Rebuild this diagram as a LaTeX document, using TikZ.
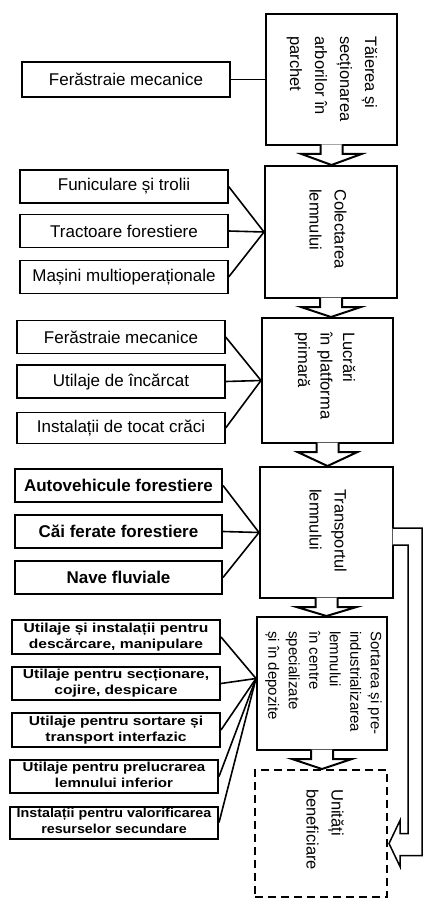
\documentclass[tikz,border=0pt]{standalone}
\usepackage{fontspec}
\usepackage{graphicx}
\setmainfont{Liberation Sans}
\usetikzlibrary{calc}
\newcommand\twoln[3][1.2]{\scalebox{#1}[1]{\begin{tabular}{@{}c@{}}#2\\#3\end{tabular}}}
\newcommand\blockarr[2]{%
  \filldraw[barrow] ($(#1.south)+(-11,-1.5)$) -- ($(#1.south)+(-11,8)$) -- ($(#1.south)+(-30,8)$)
    -- (#1.south |- #2.north) -- ($(#1.south)+(30,8)$) -- ($(#1.south)+(11,8)$) -- ($(#1.south)+(11,-1.5)$);}
\tikzset{
  lbox/.style={draw, line width=1.3pt, minimum width=208pt, minimum height=33pt, inner sep=0pt,
    font=\fontsize{17}{20}\selectfont},
  lboxb/.style={lbox, line width=2pt, font=\fontsize{17}{20}\selectfont\bfseries},
  lboxt/.style={lbox, line width=2pt, font=\fontsize{13}{16}\selectfont\bfseries},
  mbox/.style={draw, line width=2pt, inner sep=0pt},
  mtext/.style={rotate=-90, anchor=west, align=left, inner sep=0pt,
    font=\fontsize{16.5}{20}\selectfont},
  conn/.style={line width=1.6pt},
  barrow/.style={draw, fill=white, line width=2pt},
}
\begin{document}
\begin{tikzpicture}[x=1pt,y=-1pt]
\fill[white] (0,0) rectangle (424,904);
\useasboundingbox (0,0) rectangle (424,904);

% main column
\node[mbox, minimum width=131pt, minimum height=131pt] (b1) at (331.5,79.5) {};
\node[mbox, minimum width=132pt, minimum height=132pt] (b2) at (331,232) {};
\node[mbox, minimum width=131pt, minimum height=125pt] (b3) at (327.5,380.5) {};
\node[mbox, minimum width=133pt, minimum height=131pt] (b4) at (326.5,532.5) {};
\node[mbox, minimum width=130pt, minimum height=133pt] (b5) at (322,683.5) {};
\node[mbox, dash pattern=on 8pt off 5pt, minimum width=132pt, minimum height=127pt] (b6) at (321,833.5) {};

\node[mtext] (t1) at ($(b1.north)+(0.5,23)$) {Tăierea și\\[5pt]secționarea\\[5pt]arborilor în\\[5pt]parchet};
\node[mtext] (t2) at ($(b2.north)+(-3,24)$) {Colectarea\\[5pt]lemnului};
\node[mtext] (t3) at ($(b3.north)+(-2.5,15)$) {Lucrări\\[2.5pt]în platforma\\[2.5pt]primară};
\node[mtext] (t4) at ($(b4.north)+(1.5,23)$) {Transportul\\[5pt]lemnului};
\node[mtext, font=\fontsize{15}{18}\selectfont] (t5) at ($(b5.north)+(1.5,15)$) {Sortarea și pre-\\[2.5pt]industrializarea\\[2.5pt]lemnului\\[2.5pt]în centre\\[2.5pt]specializate\\[2.5pt]și în depozite};
\node[mtext] (t6) at ($(b6.north)+(4,20)$) {Unități\\[5pt]beneficiare};

% block arrows between stages
\blockarr{b1}{b2}
\blockarr{b2}{b3}
\blockarr{b3}{b4}
\blockarr{b4}{b5}
\blockarr{b5}{b6}

% bypass arrow from transport to beneficiaries
\filldraw[barrow, line width=1.5pt] ($(b4.east)+(-1.5,-4.5)$) -- ($(b4.east)+(28,-4.5)$) |- ($(b6.east)+(12,22)$)
  -- ($(b6.east)+(12,33)$) -- ($(b6.east)+(1,10)$) -- ($(b6.east)+(12,-13)$) -- ($(b6.east)+(12,0)$)
  -- ($(b6.east)+(20,0)$) |- ($(b4.east)+(-1.5,12.5)$);

% left groups
\node[lbox, minimum height=35pt] (l1) at (126,79.5) {Ferăstraie mecanice};

\node[lbox] (l21) at (124,186.5) {Funiculare și trolii};
\node[lbox] (l22) at (124,231) {Tractoare forestiere};
\node[lbox] (l23) at (124,277) {Mașini multioperaționale};

\node[lbox] (l31) at (121,337) {Ferăstraie mecanice};
\node[lbox] (l32) at (121,381.5) {Utilaje de încărcat};
\node[lbox, minimum height=31pt] (l33) at (121,428) {Instalații de tocat crăci};

\node[lboxb, minimum width=207pt] (l41) at (118.5,485.5) {Autovehicule forestiere};
\node[lboxb, minimum width=207pt] (l42) at (118.5,531.5) {Căi ferate forestiere};
\node[lboxb, minimum width=207pt] (l43) at (118.5,577.5) {Nave fluviale};

\node[lboxt, minimum height=34pt] (l51) at (116,637) {\twoln{Utilaje și instalații pentru}{descărcare, manipulare}};
\node[lboxt] (l52) at (116,683.5) {\twoln{Utilaje pentru secționare,}{cojire, despicare}};
\node[lboxt, minimum height=34pt] (l53) at (116,730) {\twoln{Utilaje pentru sortare și}{transport interfazic}};
\node[lboxt] (l54) at (114,776.5) {\twoln[1.16]{Utilaje pentru prelucrarea}{lemnului inferior}};
\node[lboxt, minimum height=31pt] (l55) at (114,822.5) {\twoln[1.1]{Instalații pentru valorificarea}{resurselor secundare}};

% connectors
\coordinate (j5) at ($(b5.west)+(0,-5)$);
\draw[conn] (l1.east) -- (b1.west);
\foreach \n in {l21,l22,l23} \draw[conn] (\n.east) -- (b2.west);
\foreach \n in {l31,l32,l33} \draw[conn] (\n.east) -- (b3.west);
\foreach \n in {l41,l42,l43} \draw[conn] (\n.east) -- (b4.west);
\foreach \n in {l51,l52,l53,l54,l55} \draw[conn] (\n.east) -- (j5);
\end{tikzpicture}
\end{document}
